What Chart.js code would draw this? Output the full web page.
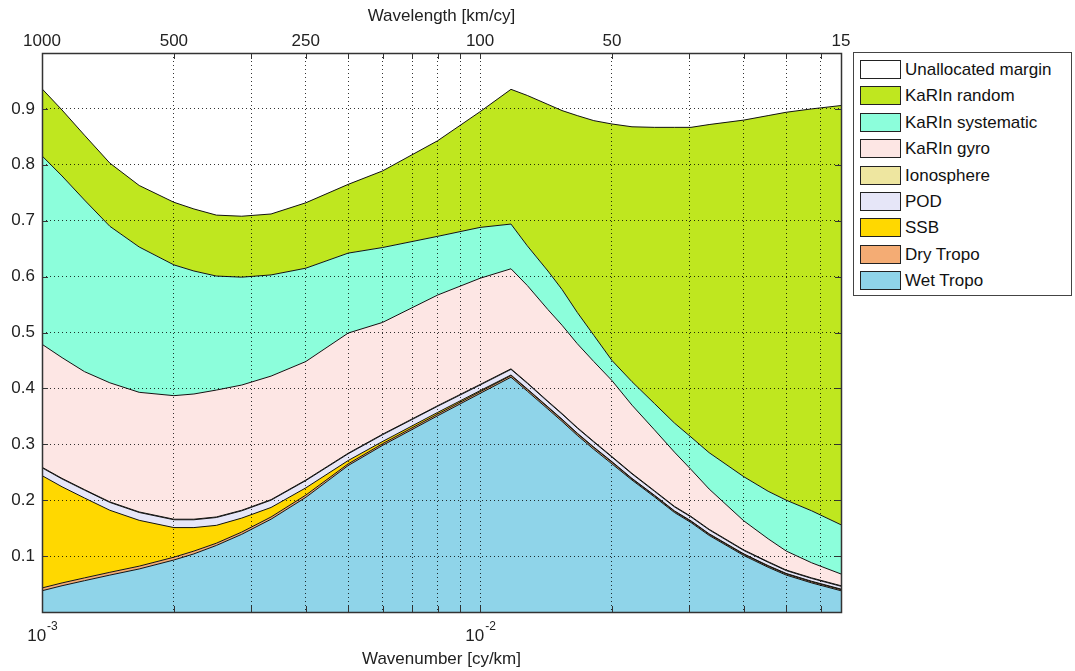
<!DOCTYPE html>
<html>
<head>
<meta charset="utf-8">
<title>Error budget</title>
<script src="https://cdn.jsdelivr.net/npm/chart.js@4.4.1/dist/chart.umd.min.js"></script>
<style>
  body { margin: 0; background: #fff; font-family: "Liberation Sans", Arial, sans-serif; }
  #wrap { position: relative; width: 1075px; height: 671px; }
  #legend {
    position: absolute; left: 853px; top: 52px; width: 219px; height: 244px;
    box-sizing: border-box; border: 1px solid #444; background: #fff; padding-top: 7px;
  }
  .item { height: 26.4px; display: flex; align-items: flex-start; }
  .swatch { width: 41px; height: 19px; box-sizing: border-box; border: 1px solid #222; margin-left: 6px; }
  .name { font-size: 17px; line-height: 20px; color: #111; margin-left: 4px; white-space: nowrap; }
</style>
</head>
<body>
<div id="wrap">
  <canvas id="myChart" width="1075" height="671"></canvas>
  <div id="legend"></div>
</div>
<script>
// x positions, as wavelength in km (plotted as wavenumber 1/km)
const wavelength = [1000, 900, 800, 700, 600, 500, 450, 400, 350, 300, 250, 200, 167, 125, 100, 85, 78, 70, 65, 60, 55, 50, 45, 40, 36, 33, 30, 25, 22, 20, 17.5, 15];

// error contributions (stacked)
const wetTropo   = [0.038, 0.047, 0.056, 0.066, 0.077, 0.093, 0.104, 0.119, 0.139, 0.166, 0.205, 0.262, 0.298, 0.351, 0.391, 0.420, 0.395, 0.363, 0.341, 0.316, 0.291, 0.265, 0.236, 0.206, 0.178, 0.160, 0.137, 0.101, 0.080, 0.066, 0.052, 0.038];
const dryTropo   = [0.005, 0.005, 0.005, 0.005, 0.005, 0.005, 0.005, 0.004, 0.004, 0.004, 0.004, 0.003, 0.003, 0.003, 0.003, 0.003, 0.003, 0.003, 0.003, 0.003, 0.003, 0.003, 0.002, 0.002, 0.002, 0.002, 0.002, 0.002, 0.002, 0.002, 0.002, 0.002];
const ssb        = [0.201, 0.172, 0.143, 0.111, 0.082, 0.053, 0.042, 0.032, 0.025, 0.017, 0.013, 0.006, 0.004, 0.003, 0.002, 0.001, 0.001, 0.001, 0.001, 0.001, 0.001, 0.001, 0.001, 0.001, 0.001, 0.001, 0.001, 0.001, 0.001, 0.001, 0.001, 0.001];
const pod        = [0.014, 0.014, 0.014, 0.014, 0.014, 0.014, 0.014, 0.014, 0.013, 0.013, 0.013, 0.012, 0.012, 0.011, 0.010, 0.010, 0.010, 0.009, 0.009, 0.009, 0.009, 0.008, 0.008, 0.007, 0.007, 0.007, 0.007, 0.006, 0.006, 0.005, 0.005, 0.005];
const ionosphere = [0.001, 0.001, 0.001, 0.001, 0.001, 0.001, 0.001, 0.001, 0.001, 0.001, 0.001, 0.001, 0.001, 0.001, 0.001, 0.001, 0.001, 0.001, 0.001, 0.001, 0.001, 0.001, 0.001, 0.001, 0.001, 0.001, 0.001, 0.001, 0.001, 0.001, 0.001, 0.001];
const karinGyro  = [0.220, 0.216, 0.211, 0.213, 0.214, 0.221, 0.224, 0.227, 0.224, 0.221, 0.212, 0.215, 0.200, 0.198, 0.190, 0.179, 0.174, 0.164, 0.158, 0.150, 0.143, 0.136, 0.122, 0.109, 0.097, 0.084, 0.072, 0.052, 0.041, 0.034, 0.027, 0.021];
const karinSyst  = [0.337, 0.325, 0.307, 0.280, 0.260, 0.234, 0.220, 0.204, 0.193, 0.181, 0.167, 0.143, 0.134, 0.105, 0.091, 0.080, 0.071, 0.069, 0.064, 0.056, 0.047, 0.036, 0.042, 0.047, 0.052, 0.058, 0.065, 0.079, 0.085, 0.091, 0.093, 0.088];
const karinRand  = [0.120, 0.118, 0.116, 0.113, 0.110, 0.112, 0.111, 0.109, 0.109, 0.109, 0.117, 0.123, 0.137, 0.171, 0.207, 0.241, 0.269, 0.298, 0.320, 0.352, 0.384, 0.423, 0.456, 0.494, 0.529, 0.554, 0.587, 0.638, 0.672, 0.694, 0.719, 0.750];
const margin     = [0.064, 0.102, 0.147, 0.197, 0.237, 0.267, 0.279, 0.290, 0.292, 0.288, 0.268, 0.235, 0.211, 0.157, 0.105, 0.065, 0.076, 0.092, 0.103, 0.112, 0.121, 0.127, 0.132, 0.133, 0.133, 0.133, 0.128, 0.120, 0.112, 0.106, 0.100, 0.094];

// axis ticks
const gridTicks = [0.001, 0.002, 0.003, 0.004, 0.005, 0.006, 0.007, 0.008, 0.009, 0.01, 0.02, 0.03, 0.04, 0.05, 0.06];
const decadeTicks = [0.001, 0.01];
const wavelengthTicks = [1000, 500, 250, 100, 50, 15];
const yTicks = [0.1, 0.2, 0.3, 0.4, 0.5, 0.6, 0.7, 0.8, 0.9];

const layers = [
  { label: "Wet Tropo", data: wetTropo, color: "#8fd4e9" },
  { label: "Dry Tropo", data: dryTropo, color: "#f4ac74" },
  { label: "SSB", data: ssb, color: "#ffd800" },
  { label: "POD", data: pod, color: "#e6e6f8" },
  { label: "Ionosphere", data: ionosphere, color: "#eee6a0" },
  { label: "KaRIn gyro", data: karinGyro, color: "#fde6e4" },
  { label: "KaRIn systematic", data: karinSyst, color: "#8cfedb" },
  { label: "KaRIn random", data: karinRand, color: "#bfe71f" },
  { label: "Unallocated margin", data: margin, color: "#ffffff" }
];

const datasets = layers.map(function (l, i) {
  return {
    label: l.label,
    data: l.data.map(function (v, j) { return { x: 1 / wavelength[j], y: v }; }),
    backgroundColor: l.color,
    borderColor: i === layers.length - 1 ? "rgba(0,0,0,0)" : "#111",
    borderWidth: 1,
    fill: i === 0 ? "origin" : "-1",
    pointRadius: 0,
    tension: 0
  };
});

// legend (top entry = top layer)
const legend = document.querySelector("#legend");
layers.slice().reverse().forEach(function (l) {
  const row = document.createElement("div");
  row.className = "item";
  row.innerHTML = '<div class="swatch" style="background:' + l.color + '"></div><div class="name">' + l.label + "</div>";
  legend.appendChild(row);
});

const FONT = '"Liberation Sans", Arial, sans-serif';
Chart.defaults.font.family = FONT;
Chart.defaults.font.size = 17;
Chart.defaults.color = "#222";

const GRID = "rgba(0,0,0,0.8)";
const XMIN = 0.001, XMAX = 1 / 15;

// frame, inward tick marks and 10^n labels (matlab look)
const framePlugin = {
  id: "frame",
  afterDraw(chart) {
    const ctx = chart.ctx;
    const a = chart.chartArea;
    const sx = chart.scales.x, sy = chart.scales.y;
    ctx.save();
    ctx.strokeStyle = "#333";
    ctx.lineWidth = 1;
    ctx.setLineDash([]);
    ctx.beginPath();
    gridTicks.forEach(function (v) {
      const px = Math.round(sx.getPixelForValue(v)) + 0.5;
      ctx.moveTo(px, a.bottom); ctx.lineTo(px, a.bottom - 6);
      ctx.moveTo(px, a.top); ctx.lineTo(px, a.top + 6);
    });
    yTicks.forEach(function (v) {
      const py = Math.round(sy.getPixelForValue(v)) + 0.5;
      ctx.moveTo(a.left, py); ctx.lineTo(a.left + 6, py);
      ctx.moveTo(a.right, py); ctx.lineTo(a.right - 6, py);
    });
    ctx.stroke();
    ctx.lineWidth = 1.5;
    ctx.strokeRect(Math.round(a.left) + 0.5, Math.round(a.top) + 0.5, Math.round(a.right - a.left), Math.round(a.bottom - a.top));

    ctx.fillStyle = "#222";
    ctx.textBaseline = "alphabetic";
    decadeTicks.forEach(function (v) {
      const px = sx.getPixelForValue(v);
      const exp = String(Math.round(Math.log10(v)));
      ctx.font = "17px " + FONT;
      const w1 = ctx.measureText("10").width;
      ctx.font = "12px " + FONT;
      const w2 = ctx.measureText(exp).width;
      const x0 = px - (w1 + w2) / 2;
      ctx.font = "17px " + FONT;
      ctx.fillText("10", x0, a.bottom + 29);
      ctx.font = "12px " + FONT;
      ctx.fillText(exp, x0 + w1 + 1, a.bottom + 18);
    });
    ctx.restore();
  }
};

const ctx = document.getElementById("myChart");

new Chart(ctx, {
  type: "line",
  data: { datasets: datasets },
  plugins: [framePlugin],
  options: {
    responsive: false,
    animation: false,
    devicePixelRatio: 1,
    layout: { padding: { left: 0, right: 234, top: 0, bottom: 0 } },
    plugins: {
      legend: { display: false },
      tooltip: { enabled: false }
    },
    scales: {
      x: {
        type: "logarithmic",
        position: "bottom",
        min: XMIN,
        max: XMAX,
        afterBuildTicks: function (s) { s.ticks = gridTicks.map(function (v) { return { value: v }; }); },
        afterFit: function (s) { s.height = 59; },
        ticks: { display: false },
        grid: { color: GRID, lineWidth: 1, drawTicks: false, z: 1 },
        border: { display: false, dash: [1, 3] },
        title: { display: true, text: "Wavenumber [cy/km]", padding: { top: 0, bottom: 1 }, color: "#222" }
      },
      x2: {
        type: "logarithmic",
        position: "top",
        min: XMIN,
        max: XMAX,
        afterBuildTicks: function (s) { s.ticks = wavelengthTicks.map(function (w) { return { value: 1 / w }; }); },
        afterFit: function (s) { s.height = 53; },
        ticks: {
          autoSkip: false,
          maxRotation: 0,
          padding: 1,
          callback: function (v) { return String(Math.round(1 / v)); }
        },
        grid: { display: false, drawTicks: false },
        border: { display: false },
        title: { display: true, text: "Wavelength [km/cy]", padding: { top: 6, bottom: 0 }, color: "#222" }
      },
      y: {
        type: "linear",
        stacked: true,
        min: 0,
        max: 1,
        afterFit: function (s) { s.width = 42; },
        ticks: {
          stepSize: 0.1,
          padding: 7,
          callback: function (v) { return v > 0.05 && v < 0.95 ? v.toFixed(1) : ""; }
        },
        grid: { color: GRID, lineWidth: 1, drawTicks: false, z: 1 },
        border: { display: false, dash: [1, 3] }
      }
    }
  }
});
</script>
</body>
</html>
